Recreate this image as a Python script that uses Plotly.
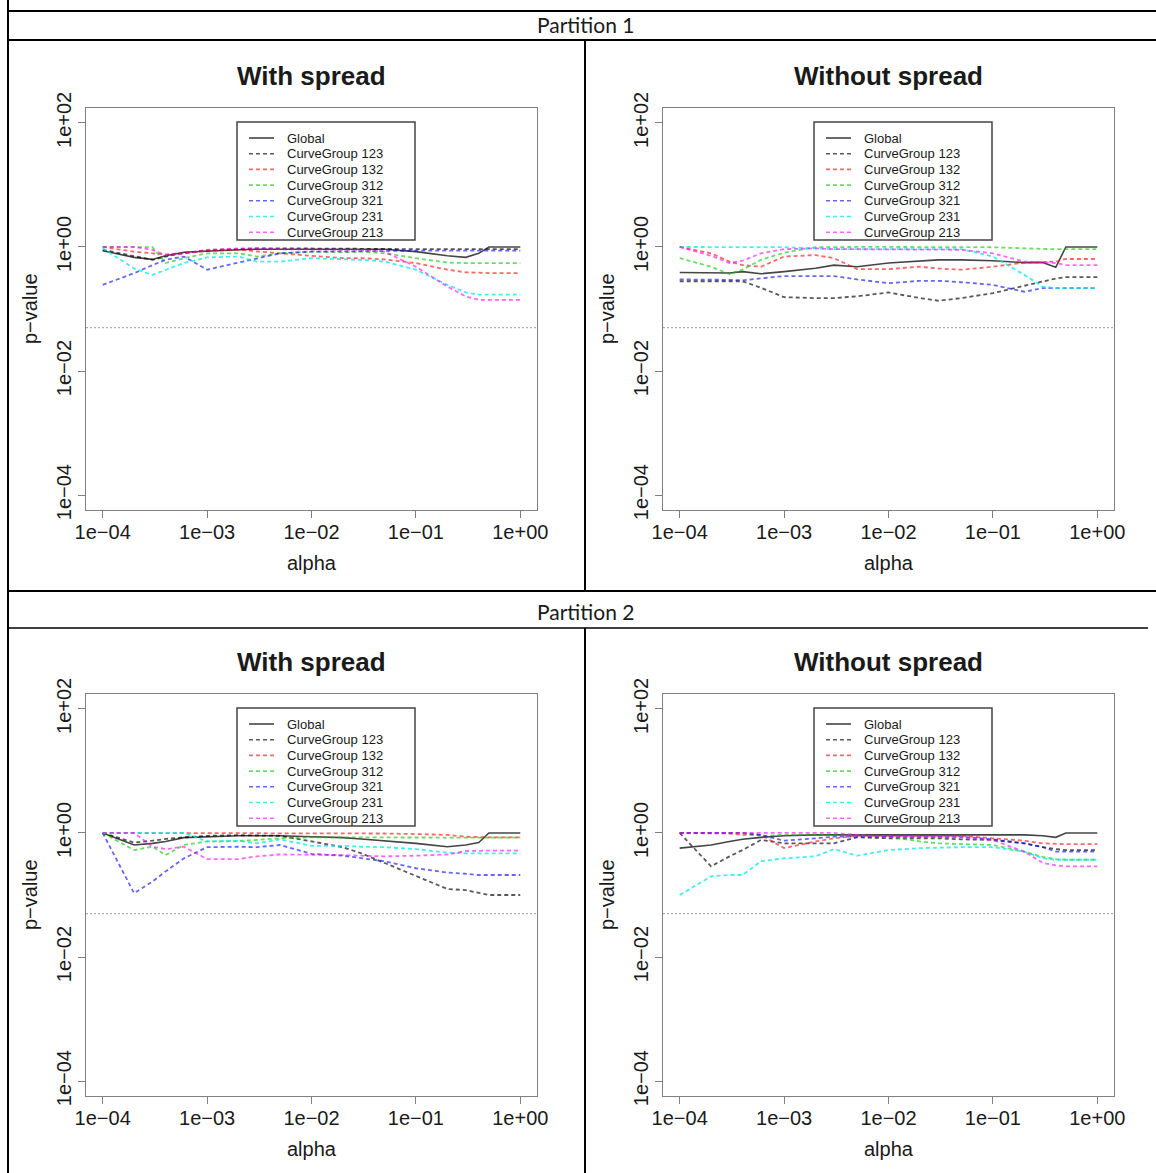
import plotly.graph_objects as go

W, H = 1156, 1173

# ---------------- data ----------------
ALPHA = [1e-4, 2e-4, 3e-4, 4e-4, 6e-4, 1e-3, 2e-3, 3e-3, 5e-3, 1e-2, 2e-2, 3e-2,
         5e-2, 1e-1, 2e-1, 3e-1, 4e-1, 5e-1, 1.0]
SERIES = ["Global", "CurveGroup 123", "CurveGroup 132", "CurveGroup 312",
          "CurveGroup 321", "CurveGroup 231", "CurveGroup 213"]

p1_with_global = [0.87, 0.68, 0.63, 0.72, 0.82, 0.86, 0.90, 0.92, 0.92, 0.92, 0.92, 0.92, 0.92, 0.84, 0.72, 0.68, 0.79, 1.0, 1.0]
p1_with_123 = [0.90, 0.72, 0.62, 0.70, 0.80, 0.88, 0.93, 0.95, 0.95, 0.95, 0.95, 0.94, 0.93, 0.92, 0.92, 0.92, 0.92, 0.92, 0.92]
p1_with_132 = [1.0, 0.84, 0.79, 0.76, 0.79, 0.87, 0.90, 0.86, 0.79, 0.72, 0.66, 0.66, 0.63, 0.55, 0.43, 0.39, 0.38, 0.38, 0.38]
p1_with_312 = [1.0, 1.0, 0.99, 0.55, 0.66, 0.79, 0.79, 0.70, 0.79, 0.84, 0.82, 0.84, 0.79, 0.66, 0.56, 0.55, 0.55, 0.55, 0.55]
p1_with_321 = [0.245, 0.378, 0.51, 0.62, 0.70, 0.43, 0.56, 0.66, 0.79, 0.84, 0.84, 0.84, 0.86, 0.87, 0.87, 0.87, 0.87, 0.87, 0.87]
p1_with_231 = [0.95, 0.45, 0.355, 0.43, 0.55, 0.68, 0.70, 0.58, 0.58, 0.66, 0.64, 0.62, 0.58, 0.43, 0.245, 0.185, 0.17, 0.17, 0.17]
p1_with_213 = [1.0, 1.0, 0.90, 0.74, 0.79, 0.90, 0.95, 0.95, 0.92, 0.90, 0.90, 0.90, 0.84, 0.48, 0.23, 0.16, 0.14, 0.14, 0.14]

p1_without_global = [0.387, 0.387, 0.38, 0.40, 0.37, 0.40, 0.455, 0.51, 0.48, 0.55, 0.60, 0.62, 0.62, 0.60, 0.56, 0.56, 0.47, 1.0, 1.0]
p1_without_123 = [0.28, 0.28, 0.28, 0.28, 0.22, 0.155, 0.15, 0.15, 0.16, 0.185, 0.15, 0.136, 0.15, 0.18, 0.237, 0.277, 0.31, 0.326, 0.326]
p1_without_132 = [1.0, 0.79, 0.58, 0.51, 0.48, 0.70, 0.74, 0.66, 0.44, 0.44, 0.48, 0.45, 0.43, 0.48, 0.56, 0.58, 0.58, 0.64, 0.64]
p1_without_312 = [0.66, 0.48, 0.365, 0.43, 0.62, 0.81, 0.99, 1.0, 1.0, 1.0, 1.0, 1.0, 1.0, 0.99, 0.95, 0.92, 0.92, 0.92, 0.92]
p1_without_321 = [0.30, 0.30, 0.295, 0.29, 0.31, 0.34, 0.34, 0.34, 0.30, 0.26, 0.285, 0.285, 0.27, 0.245, 0.19, 0.217, 0.217, 0.217, 0.217]
p1_without_231 = [1.0, 1.0, 1.0, 1.0, 1.0, 0.99, 0.95, 0.92, 0.92, 0.92, 0.92, 0.92, 0.92, 0.70, 0.355, 0.23, 0.217, 0.217, 0.217]
p1_without_213 = [1.0, 0.72, 0.55, 0.60, 0.79, 0.92, 0.95, 0.92, 0.92, 0.92, 0.92, 0.91, 0.90, 0.79, 0.58, 0.57, 0.55, 0.51, 0.51]

p2_with_global = [1.0, 0.64, 0.68, 0.73, 0.84, 0.87, 0.90, 0.90, 0.90, 0.87, 0.84, 0.80, 0.75, 0.68, 0.60, 0.64, 0.70, 1.0, 1.0]
p2_with_123 = [1.0, 0.70, 0.75, 0.80, 0.85, 0.90, 0.92, 0.92, 0.90, 0.73, 0.59, 0.47, 0.33, 0.20, 0.125, 0.12, 0.108, 0.10, 0.10]
p2_with_132 = [1.0, 1.0, 1.0, 1.0, 1.0, 1.0, 1.0, 1.0, 1.0, 1.0, 1.0, 0.99, 0.98, 0.96, 0.93, 0.87, 0.85, 0.85, 0.85]
p2_with_312 = [1.0, 0.53, 0.60, 0.44, 0.64, 0.73, 0.74, 0.77, 0.82, 0.85, 0.85, 0.85, 0.85, 0.85, 0.85, 0.84, 0.84, 0.84, 0.84]
p2_with_321 = [1.0, 0.107, 0.165, 0.24, 0.39, 0.59, 0.60, 0.59, 0.64, 0.46, 0.43, 0.39, 0.35, 0.27, 0.23, 0.22, 0.21, 0.21, 0.21]
p2_with_231 = [1.0, 1.0, 1.0, 1.0, 1.0, 0.73, 0.75, 0.68, 0.79, 0.62, 0.62, 0.60, 0.59, 0.55, 0.48, 0.47, 0.47, 0.47, 0.47]
p2_with_213 = [1.0, 1.0, 0.60, 0.55, 0.60, 0.38, 0.38, 0.42, 0.45, 0.45, 0.44, 0.43, 0.42, 0.43, 0.45, 0.51, 0.52, 0.52, 0.52]

p2_without_global = [0.57, 0.64, 0.73, 0.79, 0.85, 0.90, 0.93, 0.93, 0.93, 0.93, 0.93, 0.93, 0.93, 0.93, 0.93, 0.90, 0.85, 1.0, 1.0]
p2_without_123 = [1.0, 0.29, 0.42, 0.53, 0.77, 0.68, 0.68, 0.68, 0.85, 0.82, 0.82, 0.82, 0.79, 0.77, 0.68, 0.59, 0.55, 0.53, 0.53]
p2_without_132 = [1.0, 1.0, 0.98, 0.93, 0.93, 0.57, 0.73, 0.82, 0.90, 0.90, 0.90, 0.90, 0.90, 0.82, 0.75, 0.68, 0.66, 0.66, 0.66]
p2_without_312 = [1.0, 1.0, 1.0, 1.0, 0.90, 0.93, 0.93, 0.93, 0.93, 0.87, 0.73, 0.68, 0.67, 0.64, 0.50, 0.41, 0.38, 0.37, 0.37]
p2_without_321 = [1.0, 1.0, 1.0, 1.0, 0.93, 0.75, 0.82, 0.87, 0.87, 0.87, 0.87, 0.87, 0.87, 0.79, 0.68, 0.59, 0.50, 0.50, 0.50]
p2_without_231 = [0.10, 0.20, 0.21, 0.21, 0.35, 0.39, 0.42, 0.55, 0.43, 0.53, 0.57, 0.58, 0.59, 0.59, 0.50, 0.39, 0.37, 0.37, 0.37]
p2_without_213 = [1.0, 1.0, 1.0, 1.0, 1.0, 1.0, 1.0, 1.0, 0.93, 0.87, 0.86, 0.85, 0.85, 0.77, 0.50, 0.33, 0.30, 0.29, 0.29]

X_TICKS = [1e-4, 1e-3, 1e-2, 1e-1, 1.0]
X_TICKTEXT = ["1e\u221204", "1e\u221203", "1e\u221202", "1e\u221201", "1e+00"]
Y_TICKS = [1e-4, 1e-2, 1.0, 100.0]
Y_TICKTEXT = ["1e\u221204", "1e\u221202", "1e+00", "1e+02"]
THRESHOLD = 0.05
PANEL_TITLES = ["With spread", "Without spread", "With spread", "Without spread"]
PARTITIONS = ["Partition 1", "Partition 2"]

PANEL_DATA = [
    [p1_with_global, p1_with_123, p1_with_132, p1_with_312, p1_with_321, p1_with_231, p1_with_213],
    [p1_without_global, p1_without_123, p1_without_132, p1_without_312, p1_without_321, p1_without_231, p1_without_213],
    [p2_with_global, p2_with_123, p2_with_132, p2_with_312, p2_with_321, p2_with_231, p2_with_213],
    [p2_without_global, p2_without_123, p2_without_132, p2_without_312, p2_without_321, p2_without_231, p2_without_213],
]

# ---------------- styling ----------------
COLORS = ["#454545", "rgba(0,0,0,0.65)", "rgba(255,0,0,0.6)", "rgba(0,200,0,0.6)",
          "rgba(0,0,255,0.6)", "rgba(0,235,235,0.75)", "rgba(255,0,255,0.6)"]
DASHES = ["solid"] + ["4px,3px"] * 6
XR = [-4.16, 0.16]
YR = [-4.24, 2.24]
FRAME_W = 451
FRAME_H = 402
FRAMES = [(86, 108), (663, 108), (86, 694), (663, 694)]  # left, top in px
AX_COLOR = "#808080"
TXT = "#1a1a1a"
FONT = "Liberation Sans, Arial, sans-serif"


def px(x):
    return x / W


def py(y):
    return 1 - y / H


def note(text, x, y, size, family=FONT, angle=0, xanchor="center"):
    return dict(text=text, x=px(x), y=py(y), xref="paper", yref="paper",
                xanchor=xanchor, yanchor="middle", showarrow=False, textangle=angle,
                font=dict(size=size, color=TXT, family=family))


fig = go.Figure()
layout = dict(
    width=W, height=H, autosize=False,
    margin=dict(l=0, r=0, t=0, b=0, pad=0),
    paper_bgcolor="white", plot_bgcolor="white",
    showlegend=False,
    font=dict(family=FONT, color=TXT),
)
shapes = []
annotations = []

for k, (fl, ft) in enumerate(FRAMES):
    sfx = "" if k == 0 else str(k + 1)
    xa, ya = "x" + sfx, "y" + sfx
    for name, vals, col, dash in zip(SERIES, PANEL_DATA[k], COLORS, DASHES):
        fig.add_trace(go.Scatter(
            x=ALPHA, y=vals, mode="lines", name=name,
            line=dict(color=col, width=1.8 if dash != "solid" else 1.6, dash=dash),
            xaxis=xa, yaxis=ya, showlegend=False))
    # significance threshold line
    fig.add_trace(go.Scatter(
        x=[10 ** XR[0], 10 ** XR[1]], y=[THRESHOLD, THRESHOLD], mode="lines",
        line=dict(color="#9a9a9a", width=1, dash="2px,2px"),
        xaxis=xa, yaxis=ya, showlegend=False, hoverinfo="skip"))

    layout["xaxis" + sfx] = dict(
        type="log", range=XR, domain=[px(fl), px(fl + FRAME_W)], anchor=ya,
        automargin=False, ticklabelstandoff=-3,
        tickvals=X_TICKS, ticktext=X_TICKTEXT, ticks="outside", ticklen=7,
        tickcolor=AX_COLOR, tickwidth=1, showline=True, mirror=True,
        linecolor=AX_COLOR, linewidth=1, showgrid=False, zeroline=False,
        tickfont=dict(size=20, color=TXT, family=FONT))
    layout["yaxis" + sfx] = dict(
        type="log", range=YR, domain=[py(ft + FRAME_H), py(ft)], anchor=xa,
        automargin=False, ticklabelstandoff=-1,
        tickvals=Y_TICKS, ticktext=Y_TICKTEXT, ticks="outside", ticklen=7,
        tickcolor=AX_COLOR, tickwidth=1, showline=True, mirror=True,
        linecolor=AX_COLOR, linewidth=1, showgrid=False, zeroline=False,
        tickangle=-90, tickfont=dict(size=20, color=TXT, family=FONT))

    cx = fl + FRAME_W / 2
    annotations.append(note("<b>%s</b>" % PANEL_TITLES[k], cx, ft - 32, 26))
    annotations.append(note("alpha", cx, ft + 455, 20))
    annotations.append(note("p\u2212value", fl - 56, ft + FRAME_H / 2, 20, angle=-90))

    # legend box
    bx0, bx1 = fl + 151, fl + 329
    by0, by1 = ft + 14, ft + 132
    shapes.append(dict(type="rect", xref="paper", yref="paper",
                       x0=px(bx0), x1=px(bx1), y0=py(by1), y1=py(by0),
                       line=dict(color="#444444", width=1.5), fillcolor="white", layer="above"))
    for i, (name, col, dash) in enumerate(zip(SERIES, COLORS, DASHES)):
        ry = ft + 30 + i * 15.7
        shapes.append(dict(type="line", xref="paper", yref="paper",
                           x0=px(fl + 163), x1=px(fl + 188), y0=py(ry), y1=py(ry),
                           line=dict(color=col, width=1.6, dash=dash), layer="above"))
        annotations.append(note(name, fl + 199, ry, 13, xanchor="left"))

# table frame
LINE_K = "#000000"


def hline(y, x0, x1, w=2):
    shapes.append(dict(type="line", xref="paper", yref="paper", x0=px(x0), x1=px(x1),
                       y0=py(y), y1=py(y), line=dict(color=LINE_K, width=w)))


def vline(x, y0, y1, w=2):
    shapes.append(dict(type="line", xref="paper", yref="paper", x0=px(x), x1=px(x),
                       y0=py(y0), y1=py(y1), line=dict(color=LINE_K, width=w)))


hline(11, 7, W + 5)
hline(40, 7, W + 5)
hline(591, 7, W + 5)
hline(628, 7, 1148, 1.5)
vline(8, 0, H + 5)
vline(585, 40, 591)
vline(585, 628, H + 5)

annotations.append(note(PARTITIONS[0], 585, 25, 21, family="Lato, sans-serif"))
annotations.append(note(PARTITIONS[1], 585, 611, 21, family="Lato, sans-serif"))

layout["shapes"] = shapes
layout["annotations"] = annotations
fig.update_layout(**layout)
fig.write_html("out.html")
